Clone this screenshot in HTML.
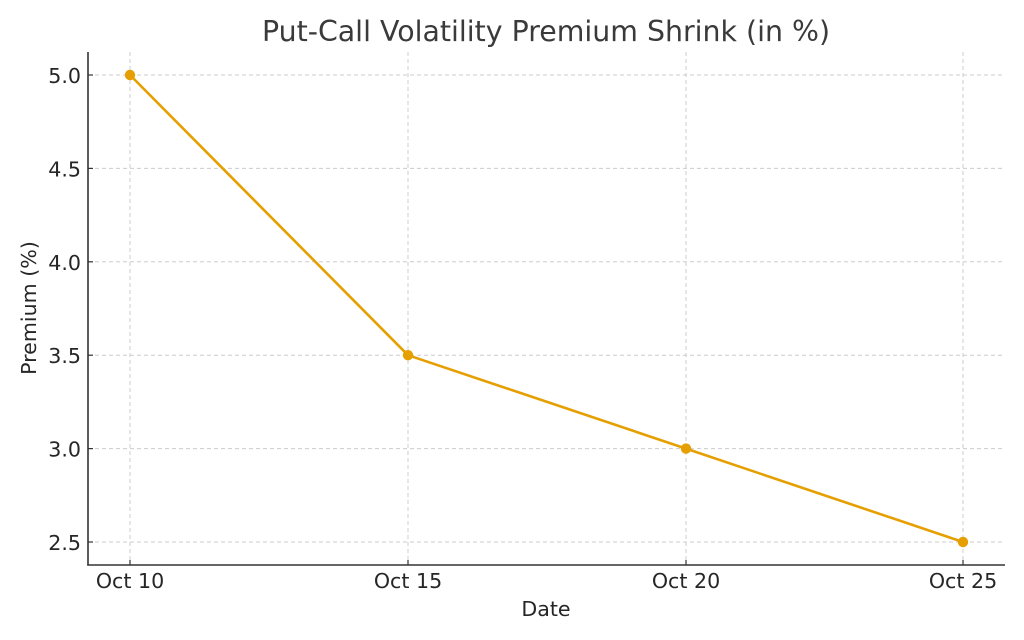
<!DOCTYPE html>
<html>
<head>
<meta charset="utf-8">
<style>
html,body{margin:0;padding:0;background:#fff;}
svg{display:block;}
text{font-family:"DejaVu Sans","Liberation Sans",sans-serif;fill:#262626;}
</style>
</head>
<body>
<svg width="1024" height="640" viewBox="0 0 1024 640" xmlns="http://www.w3.org/2000/svg">
<rect width="1024" height="640" fill="#fff"/>
<!-- grid -->
<g stroke="#cccccc" stroke-width="1" stroke-dasharray="4,3">
<line x1="88" y1="75" x2="1005" y2="75"/>
<line x1="88" y1="168.4" x2="1005" y2="168.4"/>
<line x1="88" y1="261.8" x2="1005" y2="261.8"/>
<line x1="88" y1="355.2" x2="1005" y2="355.2"/>
<line x1="88" y1="448.6" x2="1005" y2="448.6"/>
<line x1="88" y1="542" x2="1005" y2="542"/>
<line x1="130" y1="52" x2="130" y2="565"/>
<line x1="408" y1="52" x2="408" y2="565"/>
<line x1="686" y1="52" x2="686" y2="565"/>
<line x1="963" y1="52" x2="963" y2="565"/>
</g>
<!-- spines -->
<g stroke="#333" stroke-width="1.6">
<line x1="88" y1="52" x2="88" y2="565.5"/>
<line x1="87.2" y1="565" x2="1005" y2="565"/>
</g>
<!-- ticks (inward) -->
<g stroke="#333" stroke-width="1.2">
<line x1="88" y1="75" x2="93" y2="75"/>
<line x1="88" y1="168.4" x2="93" y2="168.4"/>
<line x1="88" y1="261.8" x2="93" y2="261.8"/>
<line x1="88" y1="355.2" x2="93" y2="355.2"/>
<line x1="88" y1="448.6" x2="93" y2="448.6"/>
<line x1="88" y1="542" x2="93" y2="542"/>
<line x1="130" y1="565" x2="130" y2="560"/>
<line x1="408" y1="565" x2="408" y2="560"/>
<line x1="686" y1="565" x2="686" y2="560"/>
<line x1="963" y1="565" x2="963" y2="560"/>
</g>
<!-- y tick labels -->
<g font-size="20.6" text-anchor="end">
<text x="81" y="83">5.0</text>
<text x="81" y="176.4">4.5</text>
<text x="81" y="269.8">4.0</text>
<text x="81" y="363.2">3.5</text>
<text x="81" y="456.6">3.0</text>
<text x="81" y="550">2.5</text>
</g>
<!-- x tick labels -->
<g font-size="20.6" text-anchor="middle">
<text x="130" y="588">Oct 10</text>
<text x="408" y="588">Oct 15</text>
<text x="686" y="588">Oct 20</text>
<text x="963" y="588">Oct 25</text>
</g>
<!-- axis labels -->
<text x="546" y="616" font-size="20.6" text-anchor="middle">Date</text>
<text transform="translate(36,308) rotate(-90)" font-size="20.6" text-anchor="middle">Premium (%)</text>
<!-- title -->
<text x="546" y="41" font-size="28.4" text-anchor="middle" style="fill:#3a3a3a">Put-Call Volatility Premium Shrink (in %)</text>
<!-- series -->
<polyline points="130,75 408,355.2 686,448.6 963,542" fill="none" stroke="#E69F00" stroke-width="2.6" stroke-linejoin="round"/>
<g fill="#E69F00">
<circle cx="130" cy="75" r="5.2"/>
<circle cx="408" cy="355.2" r="5.2"/>
<circle cx="686" cy="448.6" r="5.2"/>
<circle cx="963" cy="542" r="5.2"/>
</g>
</svg>
</body>
</html>
